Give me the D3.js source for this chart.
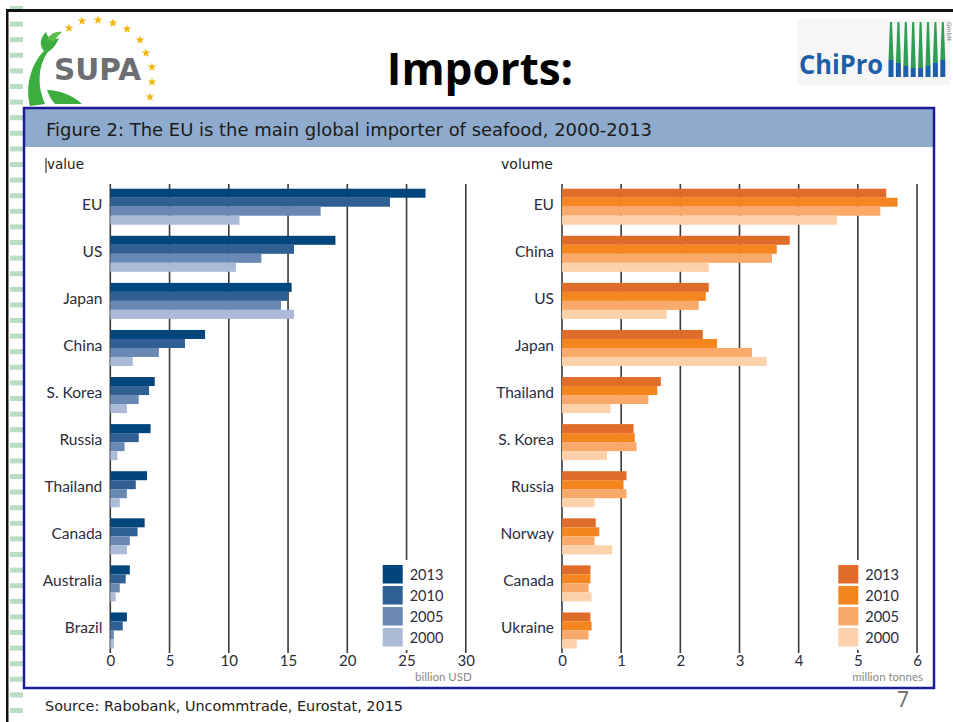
<!DOCTYPE html>
<html>
<head>
<meta charset="utf-8">
<script src="https://cdn.jsdelivr.net/npm/d3@7"></script>
<style>
  html, body { margin: 0; padding: 0; background: #fff; }
  svg { display: block; }
</style>
</head>
<body>
<svg id="slide" width="953" height="722"></svg>
<script>
// ---- data ----
const years = ["2013", "2010", "2005", "2000"];

const valueCategories = ["EU", "US", "Japan", "China", "S. Korea", "Russia", "Thailand", "Canada", "Australia", "Brazil"];
const value2013 = [26.6, 19.0, 15.3, 8.0, 3.75, 3.4, 3.1, 2.9, 1.65, 1.4];
const value2010 = [23.6, 15.5, 15.0, 6.3, 3.27, 2.4, 2.15, 2.3, 1.3, 1.05];
const value2005 = [17.75, 12.75, 14.4, 4.1, 2.4, 1.2, 1.4, 1.65, 0.8, 0.3];
const value2000 = [10.9, 10.6, 15.5, 1.9, 1.4, 0.6, 0.8, 1.4, 0.45, 0.3];
const valueTicks = [0, 5, 10, 15, 20, 25, 30];

const volumeCategories = ["EU", "China", "US", "Japan", "Thailand", "S. Korea", "Russia", "Norway", "Canada", "Ukraine"];
const volume2013 = [5.48, 3.85, 2.48, 2.38, 1.67, 1.21, 1.09, 0.57, 0.48, 0.48];
const volume2010 = [5.67, 3.63, 2.43, 2.62, 1.61, 1.23, 1.04, 0.63, 0.48, 0.50];
const volume2005 = [5.38, 3.55, 2.31, 3.21, 1.46, 1.26, 1.09, 0.55, 0.45, 0.45];
const volume2000 = [4.65, 2.48, 1.77, 3.46, 0.82, 0.76, 0.55, 0.85, 0.50, 0.25];
const volumeTicks = [0, 1, 2, 3, 4, 5, 6];

const blueShades = ["#00457c", "#2f5f93", "#6a88b4", "#abbbd7"];
const orangeShades = ["#e06c2a", "#f4851f", "#f9aa6a", "#fdd1aa"];

const svg = d3.select("#slide");
const sans = "Verdana, 'DejaVu Sans', sans-serif";

// ---- slide chrome ----
// left decorative stripe
svg.append("g").selectAll("rect")
  .data(d3.range(6, 722, 15.6))
  .join("rect")
  .attr("x", 10).attr("y", d => d).attr("width", 13).attr("height", 5)
  .attr("fill", "#b9dcc4");
svg.append("rect").attr("x", 6).attr("y", 9).attr("width", 2.5).attr("height", 713).attr("fill", "#111");
svg.append("rect").attr("x", 6).attr("y", 9).attr("width", 947).attr("height", 3).attr("fill", "#111");

// SUPA logo
const supa = svg.append("g");
supa.append("path")
  .attr("d", "M30,106 C25,86 31,64 44,51 C39,45 40,38 46,32 C48,39 53,41 59,38 C56,46 51,50 47,53 C38,67 37,86 45,104 Z")
  .attr("fill", "#3cae3f");
supa.append("path")
  .attr("d", "M47,39 C51,33 57,31 62,32 C58,35 56,39 53,42 Z")
  .attr("fill", "#5cbf4a");
supa.append("path")
  .attr("d", "M47,90 C59,90 72,95 82,104 L55,104 C51,100 49,95 47,90 Z")
  .attr("fill", "#3cae3f");
supa.append("text")
  .attr("x", 54).attr("y", 80)
  .attr("font-family", "DejaVu Sans, sans-serif").attr("font-weight", "bold")
  .attr("font-size", 31).attr("textLength", 87).attr("lengthAdjust", "spacingAndGlyphs")
  .attr("fill", "#6d6e71").text("SUPA");
const starPts = [[69, 28], [82, 21], [98, 20], [113, 23], [127, 29], [140, 40], [146, 53], [152, 67], [152, 82], [150, 97]];
const starPath = d3.range(10).map(i => {
  const r = i % 2 === 0 ? 4.6 : 1.9;
  const a = -Math.PI / 2 + i * Math.PI / 5;
  return [r * Math.cos(a), r * Math.sin(a)];
});
supa.selectAll("path.star")
  .data(starPts)
  .join("path")
  .attr("class", "star")
  .attr("transform", d => `translate(${d[0]},${d[1]})`)
  .attr("d", "M" + starPath.map(p => p.join(",")).join("L") + "Z")
  .attr("fill", "#f6b40e");

// page heading
svg.append("text")
  .attr("x", 480).attr("y", 85).attr("text-anchor", "middle")
  .attr("font-family", "'Open Sans', sans-serif").attr("font-weight", "bold")
  .attr("font-size", 44).attr("fill", "#000").text("Imports:");

// ChiPro logo
const chi = svg.append("g");
chi.append("rect").attr("x", 797).attr("y", 19).attr("width", 153).attr("height", 66).attr("fill", "#f6f6f6");
chi.append("text")
  .attr("x", 799).attr("y", 74)
  .attr("font-family", "'Open Sans', sans-serif").attr("font-weight", "bold")
  .attr("font-size", 26).attr("textLength", 84).attr("lengthAdjust", "spacingAndGlyphs")
  .attr("fill", "#1d5ea8").text("ChiPro");
const barXs = d3.range(8).map(i => 889 + i * 7.4);
const waveTop = [60, 63, 66, 68, 68, 66, 63, 60];
barXs.forEach((x, i) => {
  chi.append("path")
    .attr("d", `M${x + 1},22 L${x + 3},22 L${x + 4.5},${waveTop[i]} L${x - 0.5},${waveTop[i]} Z`)
    .attr("fill", "#2f9e55");
  chi.append("rect")
    .attr("x", x - 0.5).attr("y", waveTop[i]).attr("width", 5).attr("height", 77 - waveTop[i])
    .attr("fill", "#1d5ea8");
});
chi.append("text")
  .attr("transform", "translate(947,22) rotate(90)")
  .attr("font-family", "'DejaVu Sans', sans-serif").attr("font-size", 6)
  .attr("fill", "#777").text("GmbH");

// ---- figure frame ----
const frame = { x: 24, y: 108, w: 910, h: 580 };
svg.append("rect")
  .attr("x", frame.x).attr("y", frame.y).attr("width", frame.w).attr("height", 39)
  .attr("fill", "#8eaacc");
svg.append("rect")
  .attr("x", frame.x).attr("y", frame.y).attr("width", frame.w).attr("height", frame.h)
  .attr("fill", "none").attr("stroke", "#1c1c96").attr("stroke-width", 2.5);
svg.append("text")
  .attr("x", 46).attr("y", 136)
  .attr("font-family", sans).attr("font-size", 17)
  .attr("textLength", 606).attr("lengthAdjust", "spacingAndGlyphs")
  .attr("fill", "#1a1a1a").text("Figure 2: The EU is the main global importer of seafood, 2000-2013");

svg.append("line").attr("x1", 46).attr("x2", 46).attr("y1", 158).attr("y2", 173)
  .attr("stroke", "#111").attr("stroke-width", 1);
svg.append("text").attr("x", 47).attr("y", 169)
  .attr("font-family", sans).attr("font-size", 13.5)
  .attr("textLength", 37).attr("lengthAdjust", "spacingAndGlyphs")
  .attr("fill", "#222").text("value");
svg.append("text").attr("x", 501).attr("y", 169)
  .attr("font-family", sans).attr("font-size", 13.5)
  .attr("textLength", 52).attr("lengthAdjust", "spacingAndGlyphs")
  .attr("fill", "#222").text("volume");

// ---- grouped horizontal bar panel ----
function panel(opts) {
  const { categories, series, ticks, maxV, x0, x1, colors, unit, legendX } = opts;
  const g = svg.append("g");
  const x = d3.scaleLinear().domain([0, maxV]).range([x0, x1]);
  const y = d3.scaleBand().domain(categories).range([184, 653.2])
    .paddingInner(0.235).paddingOuter(0.1);
  const yInner = d3.scaleBand().domain(years).range([0, y.bandwidth()]);

  // vertical grid lines, one per tick
  g.selectAll("line.grid")
    .data(ticks)
    .join("line")
    .attr("class", "grid")
    .attr("x1", d => x(d)).attr("x2", d => x(d))
    .attr("y1", 184).attr("y2", 653)
    .attr("stroke", "#3a3a3a").attr("stroke-width", 1.6);

  // bars
  const rows = categories.map((c, i) => ({ c, vals: years.map((yr, k) => ({ yr, k, v: series[k][i] })) }));
  const grp = g.selectAll("g.cat")
    .data(rows)
    .join("g")
    .attr("class", "cat")
    .attr("transform", d => `translate(0,${y(d.c)})`);
  grp.selectAll("rect")
    .data(d => d.vals)
    .join("rect")
    .attr("x", x(0))
    .attr("y", d => yInner(d.yr))
    .attr("width", d => x(d.v) - x(0))
    .attr("height", yInner.bandwidth())
    .attr("fill", d => colors[d.k]);

  // category labels
  g.selectAll("text.cat")
    .data(categories)
    .join("text")
    .attr("class", "cat")
    .attr("x", x0 - 8)
    .attr("y", d => y(d) + y.bandwidth() / 2 + 3)
    .attr("text-anchor", "end")
    .attr("font-family", "Lato, sans-serif").attr("font-size", 15.5)
    .attr("fill", "#2c2c3c").text(d => d);

  // x axis labels
  const axis = d3.axisBottom(x).tickValues(ticks).tickFormat(d3.format("d")).tickSize(0).tickPadding(0);
  const ax = g.append("g").attr("transform", "translate(0,661)").call(axis);
  ax.select(".domain").remove();
  ax.selectAll("text")
    .attr("dy", "0.35em")
    .attr("font-family", "Lato, sans-serif").attr("font-size", 15)
    .attr("fill", "#2c2c3c");

  g.append("text")
    .attr("x", x1 + 6).attr("y", 681)
    .attr("text-anchor", "end")
    .attr("font-family", "Lato, sans-serif").attr("font-size", 11.5)
    .attr("fill", "#8a8a8a").text(unit);

  // legend on a white patch
  const lg = g.append("g").attr("transform", `translate(${legendX},0)`);
  lg.append("rect").attr("x", -5).attr("y", 560).attr("width", 78).attr("height", 90).attr("fill", "#fff");
  lg.selectAll("rect.sw")
    .data(years)
    .join("rect")
    .attr("class", "sw")
    .attr("x", 0).attr("y", (d, i) => 565 + i * 21)
    .attr("width", 20).attr("height", 18.5)
    .attr("fill", (d, i) => colors[i]);
  lg.selectAll("text")
    .data(years)
    .join("text")
    .attr("x", 27).attr("y", (d, i) => 565 + i * 21 + 14.5)
    .attr("font-family", "Lato, sans-serif").attr("font-size", 14.5)
    .attr("fill", "#2c2c3c").text(d => d);
}

panel({
  categories: valueCategories,
  series: [value2013, value2010, value2005, value2000],
  ticks: valueTicks, maxV: 30, x0: 110.3, x1: 465.8,
  colors: blueShades, unit: "billion USD", legendX: 382.7
});
panel({
  categories: volumeCategories,
  series: [volume2013, volume2010, volume2005, volume2000],
  ticks: volumeTicks, maxV: 6, x0: 562, x1: 917,
  colors: orangeShades, unit: "million tonnes", legendX: 838.3
});

// ---- footer ----
svg.append("text").attr("x", 45).attr("y", 711)
  .attr("font-family", sans).attr("font-size", 13.5)
  .attr("textLength", 358).attr("lengthAdjust", "spacingAndGlyphs")
  .attr("fill", "#222").text("Source: Rabobank, Uncommtrade, Eurostat, 2015");
svg.append("text").attr("x", 903).attr("y", 707).attr("text-anchor", "middle")
  .attr("font-family", "'Open Sans', sans-serif").attr("font-size", 21)
  .attr("fill", "#6a6a6a").text("7");
</script>
</body>
</html>
